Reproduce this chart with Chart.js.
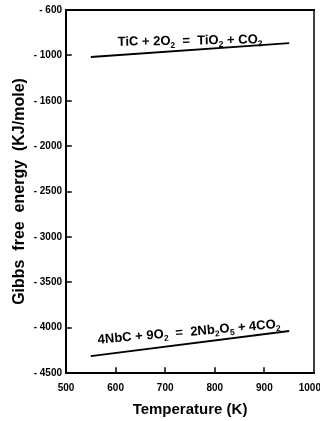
<!DOCTYPE html>
<html><head><meta charset="utf-8">
<script src="https://cdn.jsdelivr.net/npm/chart.js@4/dist/chart.umd.min.js"></script>
<style>html,body{margin:0;padding:0;background:#fff}</style>
</head><body><canvas id="c" width="320" height="421"></canvas>
<script>
// ---- data ----
const temperatures = [550, 950];
const ticDeltaG = [-1018, -866];
const nbcDeltaG = [-4313, -4037];
const xTickValues = [500, 600, 700, 800, 900, 1000];
const xTickLabels = ['500', '600', '700', '800', '900', '1000'];
const yTickValues = [-4500, -4000, -3500, -3000, -2500, -2000, -1500, -1000, -500];
const yTickLabels = ['- 4500', '- 4000', '- 3500', '- 3000', '- 2500', '- 2000', '- 1600', '- 1000', '- 600'];
const eqTexts = ['TiC + 2O_2  =  TiO_2 + CO_2', '4NbC + 9O_2  =  2Nb_2O_5 + 4CO_2'];
const eqAtT = [750, 748];
const eqAtG = [-831, -4040];
const eqAngle = [-1, -5];

const FONT = "'Liberation Sans', Arial, Helvetica, sans-serif";

function segs(str) {
  const out = [];
  let buf = '';
  for (let i = 0; i < str.length; i++) {
    if (str[i] === '_') { if (buf) out.push({t: buf, sub: false}); buf = ''; out.push({t: str[i + 1], sub: true}); i++; }
    else buf += str[i];
  }
  if (buf) out.push({t: buf, sub: false});
  return out;
}

const framePlugin = {
  id: 'frame',
  afterDraw(chart) {
    const {ctx, chartArea: a, scales: {x, y}} = chart;
    ctx.save();
    ctx.strokeStyle = '#000';
    ctx.lineCap = 'square';
    ctx.lineWidth = 2;
    ctx.beginPath();
    ctx.moveTo(a.right, a.top); ctx.lineTo(a.left, a.top); ctx.lineTo(a.left, a.bottom); ctx.lineTo(a.right, a.bottom);
    ctx.stroke();
    ctx.lineWidth = 1.5;
    ctx.beginPath(); ctx.moveTo(a.right, a.top); ctx.lineTo(a.right, a.bottom); ctx.stroke();
    // inward ticks
    ctx.lineWidth = 1.5;
    ctx.beginPath();
    yTickValues.slice(1, -1).forEach(v => { const py = Math.round(y.getPixelForValue(v)); ctx.moveTo(a.left, py); ctx.lineTo(a.left + 5, py); });
    xTickValues.slice(1, -1).forEach(v => { const px = Math.round(x.getPixelForValue(v)); ctx.moveTo(px, a.bottom); ctx.lineTo(px, a.bottom - 5); });
    ctx.stroke();
    // equation labels
    const big = 'bold 13px ' + FONT, small = 'bold 8.5px ' + FONT;
    eqTexts.forEach((txt, i) => {
      const parts = segs(txt);
      let w = 0;
      parts.forEach(p => { ctx.font = p.sub ? small : big; p.w = ctx.measureText(p.t).width; w += p.w; });
      ctx.save();
      ctx.translate(x.getPixelForValue(eqAtT[i]), y.getPixelForValue(eqAtG[i]));
      ctx.rotate(eqAngle[i] * Math.PI / 180);
      ctx.fillStyle = '#000';
      ctx.textBaseline = 'alphabetic';
      let cx = -w / 2;
      parts.forEach(p => { ctx.font = p.sub ? small : big; ctx.fillText(p.t, cx, p.sub ? 7.5 : 4.5); cx += p.w; });
      ctx.restore();
    });
    ctx.restore();
  }
};

new Chart(document.getElementById('c'), {
  type: 'line',
  data: {
    datasets: [
      {label: 'TiC', data: temperatures.map((t, i) => ({x: t, y: ticDeltaG[i]})), borderColor: '#000', borderWidth: 1.8, pointRadius: 0, fill: false, tension: 0},
      {label: 'NbC', data: temperatures.map((t, i) => ({x: t, y: nbcDeltaG[i]})), borderColor: '#000', borderWidth: 1.8, pointRadius: 0, fill: false, tension: 0}
    ]
  },
  options: {
    responsive: false,
    animation: false,
    devicePixelRatio: 1,
    layout: {padding: {top: 10, right: 6, left: 0, bottom: 0}},
    plugins: {legend: {display: false}, tooltip: {enabled: false}},
    scales: {
      x: {
        type: 'linear', min: 500, max: 1000,
        grid: {display: false, drawTicks: false}, border: {display: false},
        afterBuildTicks: s => { s.ticks = xTickValues.map(v => ({value: v})); },
        ticks: {color: '#000', padding: 9, maxRotation: 0, font: {family: FONT, size: 10, weight: 'bold'},
          callback: (v, i, arr) => xTickLabels[xTickValues.indexOf(v)] + (i === arr.length - 1 ? '   ' : '')},
        title: {display: true, text: 'Temperature (K)', color: '#000', font: {family: FONT, size: 15, weight: 'bold'}, padding: {top: 0, bottom: 2}},
        afterFit: s => { s.height = 48; s.paddingLeft = 0; s.paddingRight = 0; }
      },
      y: {
        type: 'linear', min: -4500, max: -500,
        grid: {display: false, drawTicks: false}, border: {display: false},
        afterBuildTicks: s => { s.ticks = yTickValues.map(v => ({value: v})); },
        ticks: {color: '#000', padding: 4, font: {family: FONT, size: 10, weight: 'bold'},
          callback: (v) => yTickLabels[yTickValues.indexOf(v)]},
        title: {display: true, text: 'Gibbs  free  energy  (KJ/mole)', color: '#000', font: {family: FONT, size: 16, weight: 'bold'}, padding: {top: 10, bottom: 0}},
        afterFit: s => { s.width = 66; s.paddingTop = 0; s.paddingBottom = 0; }
      }
    }
  },
  plugins: [framePlugin]
});
</script></body></html>
